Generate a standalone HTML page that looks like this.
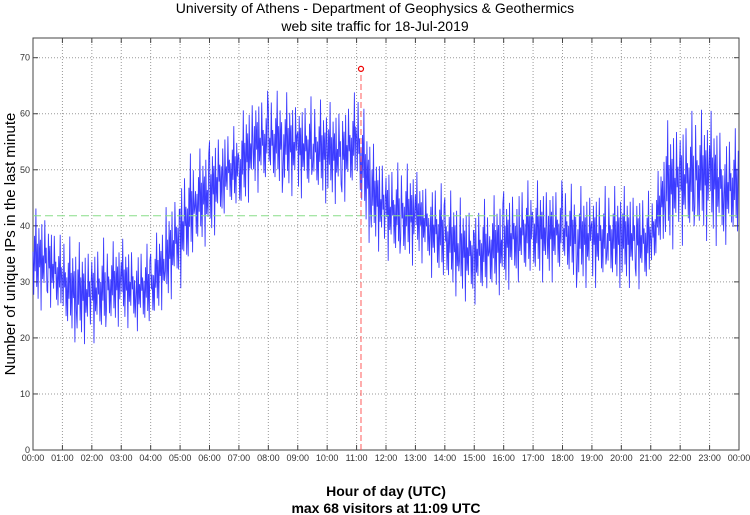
<!DOCTYPE html>
<html><head><meta charset="utf-8">
<style>
html,body{margin:0;padding:0;background:#fff;}
svg{display:block;font-family:"Liberation Sans",sans-serif;}
</style></head>
<body>
<svg id="chart" width="750" height="515" viewBox="0 0 750 515" xmlns="http://www.w3.org/2000/svg">
<text x="375" y="13" font-size="14" text-anchor="middle" fill="#000">University of Athens - Department of Geophysics &amp; Geothermics</text>
<text x="375" y="31" font-size="14" text-anchor="middle" fill="#000">web site traffic for 18-Jul-2019</text>
<rect x="33" y="38" width="706" height="412" fill="#fff" stroke="#444" stroke-width="1"/>
<g id="grid"></g><g id="ticks"></g><g id="series"></g><g id="marks"></g>
<text transform="translate(15,244) rotate(-90)" font-size="15" text-anchor="middle" fill="#000">Number of unique IPs in the last minute</text>
<text x="386" y="496" font-size="14" font-weight="bold" text-anchor="middle" fill="#000">Hour of day (UTC)</text>
<text x="386" y="513" font-size="14" font-weight="bold" text-anchor="middle" fill="#000">max 68 visitors at 11:09 UTC</text>
</svg>
<script>
const yTicks = [0,10,20,30,40,50,60,70];
const xTickLabels = ["00:00","01:00","02:00","03:00","04:00","05:00","06:00","07:00","08:00","09:00","10:00","11:00","12:00","13:00","14:00","15:00","16:00","17:00","18:00","19:00","20:00","21:00","22:00","23:00","00:00"];
// half-hourly level estimates (visitors)
const mids = [34,34,30,28,28,29,30,29,29,34,39,44,46,50,50,55,55,55,54,54,53,53,55,46,43,42,42,40,38,36,35,36,37,39,39,39,39,38,38,38,38,38,37,47,48,49,49,47];
const spread = [7,6,7,7,7,6,6,6,6,7,8,7,7,6,7,7,7,7,7,7,7,7,8,7,7,7,6,7,7,7,7,7,7,7,7,7,7,7,7,7,7,7,6,9,9,9,9,8];
const maxTime = 11 + 9/60, maxVal = 68, meanVal = 41.8;
const wiggle = [0.2,-0.9,0.6,-0.3,1.3,-0.7,0.4,-1.0,0.8,-0.2,0.5,-1.3,0.9,-0.5,0.1,-0.6,1.0,-0.1,0.3,-0.8];

const NS="http://www.w3.org/2000/svg";
const X0=33,X1=739,Y0=450,YT=57.7;
const xs=h=>X0+(X1-X0)*h/24;
const ys=v=>Y0-(Y0-YT)*v/70;
function mk(tag,attrs,parent){const e=document.createElementNS(NS,tag);for(const k in attrs)e.setAttribute(k,attrs[k]);parent.appendChild(e);return e;}
const grid=document.getElementById('grid'),ticks=document.getElementById('ticks'),series=document.getElementById('series'),marks=document.getElementById('marks');

yTicks.forEach(v=>{
  const y=ys(v);
  if(v>0){const g=mk('line',{x1:X0,x2:X1,y1:y,y2:y,stroke:'#999','stroke-width':1,'stroke-dasharray':'1,2'},grid);
  
  }
  const t=mk('line',{x1:X0,x2:X0+5,y1:y,y2:y,stroke:'#444'},ticks);
  
  
  const t2=mk('line',{x1:X1-5,x2:X1,y1:y,y2:y,stroke:'#444'},ticks);
  
  
  const l=mk('text',{x:X0-3,y:y+3,'font-size':9,'text-anchor':'end',fill:'#333'},ticks);
  l.textContent=v;
  
  
});
xTickLabels.forEach((s,i)=>{
  const x=xs(i);
  if(i>0&&i<24){const g=mk('line',{x1:x,x2:x,y1:38,y2:Y0,stroke:'#999','stroke-width':1,'stroke-dasharray':'1,2'},grid);
  
  }
  const t=mk('line',{x1:x,x2:x,y1:Y0-5,y2:Y0,stroke:'#444'},ticks);
  
  
  const t2=mk('line',{x1:x,x2:x,y1:38,y2:43,stroke:'#444'},ticks);
  
  
  const l=mk('text',{x:x,y:461,'font-size':9,'text-anchor':'middle',fill:'#333'},ticks);
  l.textContent=s;
  
  
});

// mean line
const ml=mk('line',{x1:X0,x2:X1,y1:ys(meanVal),y2:ys(meanVal),stroke:'#88dd88','stroke-width':1,'stroke-dasharray':'8,4'},marks);



// traffic series
let pts=[];
const per=wiggle.length;
for(let i=0;i<mids.length;i++){
  const nxt=i+1<mids.length?mids[i+1]:mids[i];
  for(let k=0;k<per;k++){
    const f=k/per;
    const m=mids[i]*(1-f)+nxt*f;
    const v=m+spread[i]*wiggle[(k+i*7)%per];
    pts.push(xs((i+f)/2).toFixed(1)+','+ys(v).toFixed(1));
  }
}
const pl=mk('polyline',{points:pts.join(' '),fill:'none',stroke:'#1a1aff','stroke-width':0.9,'stroke-opacity':0.85},series);



// max marker
const ml2=mk('line',{x1:xs(maxTime),x2:xs(maxTime),y1:Y0,y2:ys(maxVal),stroke:'#f55','stroke-width':1.2,'stroke-opacity':0.8,'stroke-dasharray':'6,3'},marks);


const mc=mk('circle',{cx:xs(maxTime),cy:ys(maxVal),r:2.5,fill:'#fff',stroke:'#e00','stroke-width':1.2},marks);


</script>
</body></html>
